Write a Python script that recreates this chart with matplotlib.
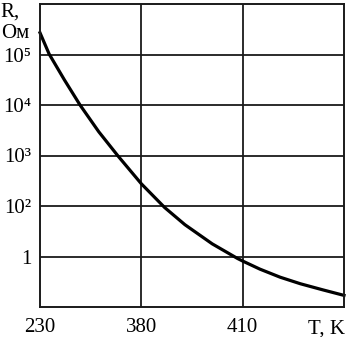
import matplotlib
matplotlib.use("Agg")
import matplotlib.pyplot as plt

plt.rcParams['font.family'] = ['Liberation Serif', 'DejaVu Serif']

# curve: x in grid cells (230..380..410..), y in decades
t_pos = [0.0, 0.09, 0.24, 0.395, 0.58, 0.77, 1.0, 1.23, 1.43, 1.70,
         1.95, 2.0, 2.17, 2.37, 2.57, 2.79, 3.0]
lg_r = [5.43, 5.01, 4.50, 4.0, 3.47, 2.99, 2.44, 1.97, 1.63, 1.25,
        0.96, 0.91, 0.75, 0.59, 0.46, 0.34, 0.23]

x_ticks = [0, 1, 2]
x_labels = ['230', '380', '410']
y_ticks = [1, 2, 3, 4, 5]
y_labels = ['1', '10²', '10³', '10⁴', '10⁵']

fig = plt.figure(figsize=(3.5, 3.37), dpi=100)
ax = fig.add_axes([40 / 350, 30 / 337, 304 / 350, 303 / 337])
ax.set_xlim(0, 3)
ax.set_ylim(0, 6)

for xv in [1, 2]:
    ax.axvline(xv, color='#1a1a1a', lw=1.3)
for yv in y_ticks:
    ax.axhline(yv, color='#1a1a1a', lw=1.3)

ax.plot(t_pos, lg_r, color='black', lw=2.3, solid_joinstyle='round', clip_on=False)

for s in ax.spines.values():
    s.set_linewidth(1.4)
    s.set_color('#1a1a1a')

ax.set_xticks(x_ticks)
ax.set_xticklabels(x_labels, fontsize=15)
ax.set_yticks(y_ticks)
ax.set_yticklabels(y_labels, fontsize=15)
ax.tick_params(length=0)
ax.tick_params(axis='x', pad=8)
ax.tick_params(axis='y', pad=6)

fig.text(326 / 350, 1 - 329 / 337, 'T, K', fontsize=15, ha='center', va='center')
fig.text(10 / 350, 1 - 12 / 337, 'R,', fontsize=15, ha='center', va='center')
fig.text(15 / 350, 1 - 33 / 337, 'Ом', fontsize=15, ha='center', va='center')

plt.savefig('out.png', dpi=100)
